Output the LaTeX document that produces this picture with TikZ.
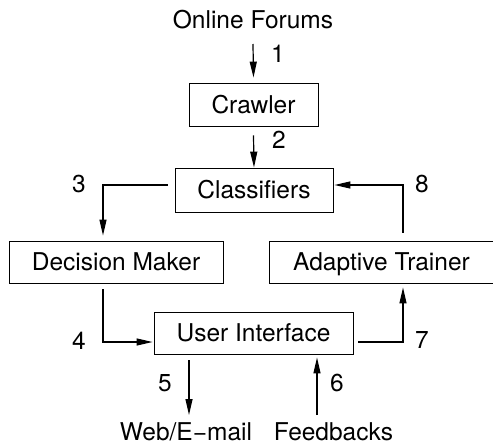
\documentclass[tikz,border=0pt]{standalone}
\usepackage{fontspec}
\setmainfont{TeX Gyre Heros}
\usetikzlibrary{arrows.meta}
\begin{document}
\begin{tikzpicture}[x=1pt,y=-1pt,
  txt/.style={font=\fontsize{24.5}{28}\selectfont, inner sep=0pt,
              text height=17.6pt, text depth=0pt},
  block/.style={draw, line width=0.9pt, txt},
  flow/.style={line width=1.2pt, -{Triangle[length=16pt,width=7pt]}},
]
\useasboundingbox (0,0) rectangle (493,447);
\clip (0,0) rectangle (493,447);

% blocks
\node[block, minimum width=129pt, minimum height=43pt] (crawler) at (253.5,104.5) {Crawler};
\node[block, minimum width=158pt, minimum height=44pt] (cls) at (254,190) {Classifiers};
\node[block, minimum width=214pt, minimum height=42pt] (dm) at (116,262) {Decision Maker};
\node[block, minimum width=225pt, minimum height=42pt] (at) at (381.5,262) {Adaptive Trainer};
\node[block, minimum width=199pt, minimum height=42pt] (ui) at (253.5,333) {User Interface};

% sources and sinks
\node[txt] (forums) at (253,20) {Online Forums};
\node[txt] (web) at (186,432) {Web/E−mail};
\node[txt] (feed) at (333.5,432) {Feedbacks};

% step numbers
\node[txt] (n1) at (278,54) {1};
\node[txt] (n2) at (279,140) {2};
\node[txt] (n3) at (79,184) {3};
\node[txt] (n4) at (79,341) {4};
\node[txt] (n5) at (165,383) {5};
\node[txt] (n6) at (337,383) {6};
\node[txt] (n7) at (422,340) {7};
\node[txt] (n8) at (422,184) {8};

% data flow
\draw[flow] ([yshift=-15pt]forums.south) -- ([yshift=5pt]crawler.north);
\draw[flow] ([yshift=-9pt]crawler.south) -- (cls.north);
\draw[flow] ([xshift=-7pt,yshift=5pt]cls.west) -| ([xshift=-13pt,yshift=5pt]dm.north);
\draw[flow] ([xshift=-13pt,yshift=-6pt]dm.south) |- ([xshift=-1pt,yshift=-9pt]ui.west);
\draw[flow] ([xshift=-64.5pt,yshift=-6pt]ui.south) -- ([xshift=3pt,yshift=8pt]web.north);
\draw[flow] ([xshift=-16.5pt,yshift=8pt]feed.north) -- ([xshift=63.5pt,yshift=-3pt]ui.south);
\draw[flow] ([xshift=5pt,yshift=-9pt]ui.east) -| ([xshift=21.5pt,yshift=-4pt]at.south);
\draw[flow] ([xshift=21.5pt,yshift=8pt]at.north) |- ([xshift=1pt,yshift=5pt]cls.east);
\end{tikzpicture}
\end{document}
